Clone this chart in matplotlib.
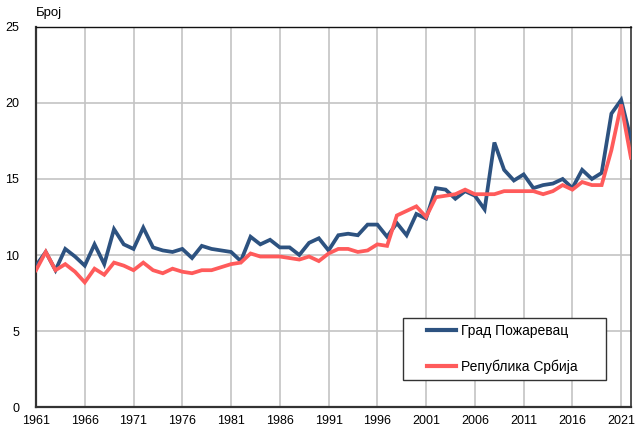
import numpy as np
import matplotlib.pyplot as plt
from matplotlib.patches import Rectangle

plt.rcParams['font.family'] = ['Liberation Sans', 'DejaVu Sans']

years = list(range(1961, 2023))

# Град Пожаревац
pozarevac = [9.3, 10.2, 9.0, 10.4, 9.9, 9.3, 10.7, 9.4, 11.7, 10.7,
             10.4, 11.8, 10.5, 10.3, 10.2, 10.4, 9.8, 10.6, 10.4, 10.3,
             10.2, 9.6, 11.2, 10.7, 11.0, 10.5, 10.5, 10.0, 10.8, 11.1,
             10.3, 11.3, 11.4, 11.3, 12.0, 12.0, 11.2, 12.1, 11.3, 12.7,
             12.4, 14.4, 14.3, 13.7, 14.2, 13.9, 13.0, 17.4, 15.6, 14.9,
             15.3, 14.4, 14.6, 14.7, 15.0, 14.4, 15.6, 15.0, 15.4, 19.3,
             20.2, 17.6]

# Република Србија
srbija = [9.0, 10.2, 9.0, 9.4, 8.9, 8.2, 9.1, 8.7, 9.5, 9.3,
          9.0, 9.5, 9.0, 8.8, 9.1, 8.9, 8.8, 9.0, 9.0, 9.2,
          9.4, 9.5, 10.1, 9.9, 9.9, 9.9, 9.8, 9.7, 9.9, 9.6,
          10.1, 10.4, 10.4, 10.2, 10.3, 10.7, 10.6, 12.6, 12.9, 13.2,
          12.5, 13.8, 13.9, 14.0, 14.3, 14.0, 14.0, 14.0, 14.2, 14.2,
          14.2, 14.2, 14.0, 14.2, 14.6, 14.3, 14.8, 14.6, 14.6, 16.9,
          19.9, 16.4]

fig = plt.figure(figsize=(6.36, 4.28), dpi=100)
ax = fig.add_axes([0.0566, 0.049, 0.9354, 0.888])

ax.plot(years, pozarevac, color='#2d5280', lw=2.7, label='Град Пожаревац',
        solid_joinstyle='miter', zorder=3)
ax.plot(years, srbija, color='#ff5b5b', lw=2.7, label='Република Србија',
        solid_joinstyle='miter', zorder=3)

ax.set_xlim(1961, 2022)
ax.set_ylim(0, 25)
ax.set_xticks(range(1961, 2022, 5))
ax.set_yticks(range(0, 26, 5))
ax.grid(True, color='#c4c4c4', lw=1.2)
ax.set_axisbelow(True)
ax.tick_params(length=0, labelsize=9, pad=6)
ax.tick_params(axis='y', pad=12)

for s in ['left', 'bottom']:
    ax.spines[s].set_color('#333333')
    ax.spines[s].set_linewidth(1.6)
ax.spines['top'].set_color('#111111')
ax.spines['top'].set_linewidth(1.0)
ax.spines['right'].set_color('#333333')
ax.spines['right'].set_linewidth(1.2)

fig.text(0.0566, 0.955, 'Број', fontsize=9.5, ha='left', va='bottom')

# legend box drawn separately so the padding matches the original
box = Rectangle((0.617, 0.071), 0.341, 0.163, transform=ax.transAxes,
                facecolor='white', edgecolor='#333333', lw=1.0, zorder=4)
ax.add_patch(box)
leg = ax.legend(loc='center left', bbox_to_anchor=(0.657, 0.1525),
                fontsize=10, frameon=False,
                labelspacing=1.55, handlelength=2.1, handletextpad=0.35,
                borderpad=0, borderaxespad=0)
leg.set_zorder(5)
for l in leg.get_lines():
    l.set_linewidth(3)

fig.savefig('out.png', dpi=100)
